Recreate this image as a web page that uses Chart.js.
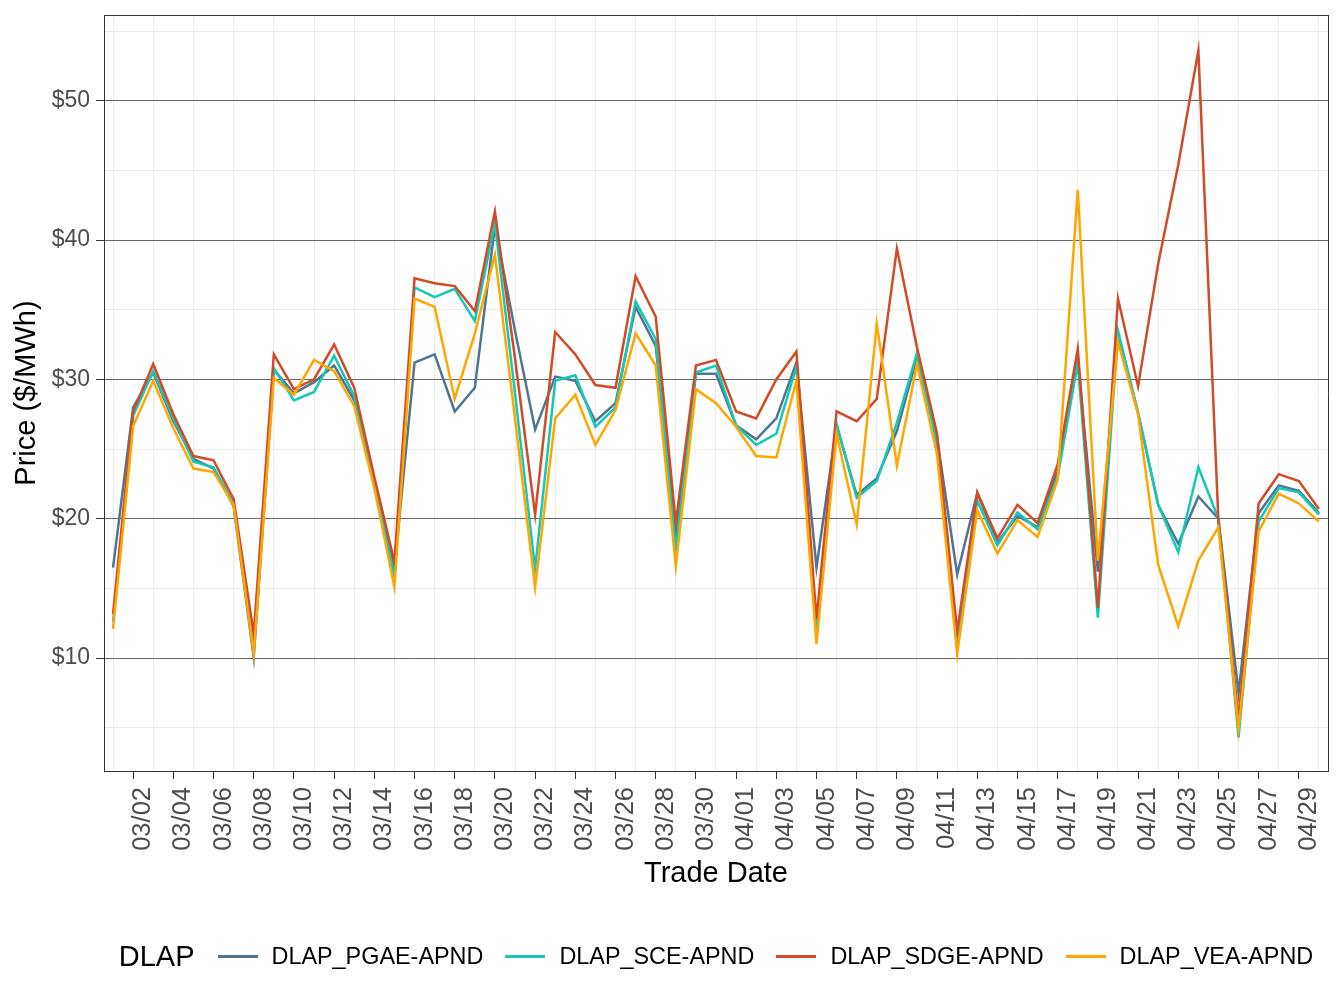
<!DOCTYPE html>
<html>
<head>
<meta charset="utf-8">
<script src="https://cdn.jsdelivr.net/npm/chart.js@4"></script>
<style>
  body { margin: 0; background: #fff; }
  #wrap { position: relative; width: 1344px; height: 1008px; }
  #legend {
    position: absolute; left: 56px; width: 1344px; top: 940px;
    display: flex; justify-content: center; align-items: center;
    font-family: "Liberation Sans", Arial, sans-serif; color: #000;
  }
  #legend .ttl { font-size: 29px; margin-right: 23px; margin-left: -2px; }
  #legend .sw { width: 40px; height: 3px; margin-right: 14px; }
  #legend .lb { font-size: 23.4px; margin-right: 22px; }
</style>
</head>
<body>
<div id="wrap">
  <canvas id="graph" width="1344" height="1008"></canvas>
  <div id="legend"></div>
</div>
<script>
const dates = [
  "03/01","03/02","03/03","03/04","03/05","03/06","03/07","03/08","03/09","03/10",
  "03/11","03/12","03/13","03/14","03/15","03/16","03/17","03/18","03/19","03/20",
  "03/21","03/22","03/23","03/24","03/25","03/26","03/27","03/28","03/29","03/30",
  "03/31","04/01","04/02","04/03","04/04","04/05","04/06","04/07","04/08","04/09",
  "04/10","04/11","04/12","04/13","04/14","04/15","04/16","04/17","04/18","04/19",
  "04/20","04/21","04/22","04/23","04/24","04/25","04/26","04/27","04/28","04/29",
  "04/30"
];
const xTickLabels = [
  "03/02","03/04","03/06","03/08","03/10","03/12","03/14","03/16","03/18","03/20",
  "03/22","03/24","03/26","03/28","03/30","04/01","04/03","04/05","04/07","04/09",
  "04/11","04/13","04/15","04/17","04/19","04/21","04/23","04/25","04/27","04/29"
];
const yTicks = [10, 20, 30, 40, 50];
const yMinorTicks = [5, 15, 25, 35, 45, 55];

const seriesNames = ["DLAP_PGAE-APND", "DLAP_SCE-APND", "DLAP_SDGE-APND", "DLAP_VEA-APND"];
const seriesColors = ["#4e7591", "#13c9b6", "#d24a27", "#ffa600"];

const pgae = [16.5, 28.0, 30.5, 27.0, 24.3, 23.6, 20.9, 10.05, 30.7, 29.0,
  29.8, 31.0, 28.5, 22.5, 16.4, 31.2, 31.8, 27.7, 29.4, 41.0,
  33.5, 26.4, 30.2, 29.9, 27.0, 28.3, 35.2, 32.4, 18.8, 30.4,
  30.4, 26.7, 25.7, 27.2, 31.2, 16.5, 26.7, 21.7, 22.9, 26.3,
  31.6, 25.8, 16.0, 21.85, 18.3, 20.2, 19.4, 23.4, 31.4, 16.2,
  33.3, 27.6, 21.0, 18.2, 21.6, 20.0, 7.5, 20.4, 22.4, 22.0,
  20.4];
const sce = [12.6, 27.4, 30.6, 27.2, 24.1, 23.7, 21.1, 10.5, 30.8, 28.5,
  29.1, 31.7, 28.8, 22.6, 15.9, 36.6, 35.9, 36.5, 34.2, 41.2,
  29.0, 16.4, 29.9, 30.3, 26.6, 28.0, 35.6, 32.9, 17.8, 30.5,
  31.0, 26.7, 25.3, 26.1, 30.9, 12.1, 26.8, 21.5, 22.7, 26.9,
  31.9, 25.3, 11.2, 21.3, 18.1, 20.45, 19.25, 23.0, 31.2, 12.9,
  33.5, 27.6, 21.0, 17.6, 23.7, 20.0, 4.3, 19.8, 22.2, 21.9,
  20.3];
const sdge = [13.15, 27.7, 31.1, 27.5, 24.5, 24.2, 21.4, 11.7, 31.8, 29.3,
  30.0, 32.5, 29.4, 23.0, 16.9, 37.25, 36.9, 36.7, 34.9, 42.05,
  31.5, 20.3, 33.4, 31.8, 29.6, 29.4, 37.4, 34.5, 19.7, 31.0,
  31.4, 27.7, 27.2, 30.0, 32.0, 12.8, 27.7, 27.0, 28.6, 39.4,
  32.3, 26.1, 11.9, 21.9, 18.6, 21.0, 19.7, 23.9, 32.2, 13.6,
  35.8, 29.5, 38.3, 45.4, 53.6, 19.8, 5.6, 21.1, 23.2, 22.7,
  20.7];
const vea = [12.1, 26.65, 29.9, 26.5, 23.6, 23.35, 21.0, 10.3, 30.1, 28.9,
  31.4, 30.6, 28.1, 22.2, 15.1, 35.8, 35.2, 28.6, 33.3, 38.95,
  27.2, 15.05, 27.2, 28.9, 25.3, 27.8, 33.3, 31.0, 16.6, 29.3,
  28.3, 26.6, 24.5, 24.4, 29.9, 11.0, 26.1, 19.6, 34.0, 23.8,
  31.1, 24.6, 10.3, 20.6, 17.5, 19.9, 18.7, 22.8, 43.6, 17.0,
  32.7, 27.5, 16.7, 12.3, 17.0, 19.4, 4.9, 19.1, 21.8, 21.1,
  19.8];
const seriesValues = [pgae, sce, sdge, vea];

Chart.defaults.font.family = '"Liberation Sans", Arial, sans-serif';

const ctx = document.getElementById("graph").getContext("2d");
const xMin = -0.45, xMax = dates.length - 1 + 0.45;

const meuGrafico = new Chart(ctx, {
  type: 'line',
  data: {
    datasets: seriesNames.map((name, k) => ({
      label: name,
      data: seriesValues[k].map((v, i) => ({ x: i, y: v })),
      borderColor: seriesColors[k],
      borderWidth: 2.5,
      pointRadius: 0,
      tension: 0,
      fill: false,
      order: seriesNames.length - k // ultima serie por cima, como no ggplot
    }))
  },
  options: {
    responsive: false,
    animation: false,
    devicePixelRatio: 1,
    layout: { padding: { left: 0, top: 15, right: 16, bottom: 112 } },
    plugins: {
      legend: { display: false },
      tooltip: { enabled: false }
    },
    scales: {
      x: {
        type: 'linear',
        position: 'bottom',
        min: xMin,
        max: xMax,
        afterBuildTicks: (s) => { s.ticks = xTickLabels.map(l => ({ value: dates.indexOf(l) })); },
        afterFit: (s) => { s.height = 125; s.paddingLeft = 0; s.paddingRight = 0; },
        grid: { drawOnChartArea: false, drawTicks: true, tickLength: 8, tickColor: '#333', tickWidth: 1 },
        border: { display: true, color: '#333', width: 1 },
        ticks: {
          autoSkip: false, minRotation: 90, maxRotation: 90, padding: 8, labelOffset: 10,
          color: '#4d4d4d', font: { size: 25.5 },
          callback: (v) => dates[v]
        },
        title: { display: true, text: 'Trade Date', color: '#000', font: { size: 29 }, padding: { top: 0, bottom: 5 } }
      },
      x2: {
        type: 'linear',
        position: 'top',
        min: xMin,
        max: xMax,
        afterBuildTicks: (s) => { s.ticks = dates.map((d, i) => i).filter(i => i % 2 === 0).map(i => ({ value: i })); },
        afterFit: (s) => { s.height = 0; s.paddingLeft = 0; s.paddingRight = 0; },
        grid: { color: '#ebebeb', lineWidth: 1, drawTicks: false, z: -2 },
        border: { display: true, color: '#333', width: 1 },
        ticks: { display: false }
      },
      y: {
        type: 'linear',
        position: 'left',
        min: 1.9,
        max: 56.15,
        afterBuildTicks: (s) => { s.ticks = yTicks.map(v => ({ value: v })); },
        afterFit: (s) => { s.width = 104; s.paddingTop = 0; s.paddingBottom = 0; },
        grid: { color: '#6a6a6a', lineWidth: 1, drawTicks: true, tickLength: 8, tickColor: '#333', z: -1 },
        border: { display: true, color: '#333', width: 1 },
        ticks: { padding: 6, color: '#4d4d4d', font: { size: 23 }, callback: (v) => '$' + v },
        title: { display: true, text: 'Price ($/MWh)', color: '#000', font: { size: 29 }, padding: { top: 10, bottom: 0 } }
      },
      y2: {
        type: 'linear',
        position: 'right',
        min: 1.9,
        max: 56.15,
        afterBuildTicks: (s) => { s.ticks = yMinorTicks.map(v => ({ value: v })); },
        afterFit: (s) => { s.width = 0; s.paddingTop = 0; s.paddingBottom = 0; },
        grid: { color: '#ebebeb', lineWidth: 1, drawTicks: false, z: -2 },
        border: { display: true, color: '#333', width: 1 },
        ticks: { display: false }
      }
    }
  }
});

// legenda em HTML por baixo do grafico
const leg = document.getElementById("legend");
let html = '<span class="ttl">DLAP</span>';
seriesNames.forEach((n, k) => {
  html += '<span class="sw" style="background:' + seriesColors[k] + '"></span><span class="lb">' + n + '</span>';
});
leg.innerHTML = html;
</script>
</body>
</html>
